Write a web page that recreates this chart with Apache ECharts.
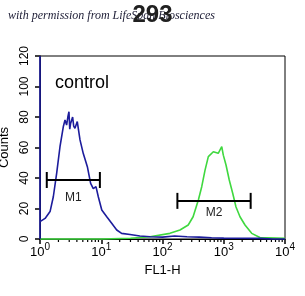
<!DOCTYPE html>
<html><head><meta charset="utf-8">
<script src="https://cdn.jsdelivr.net/npm/echarts@6/dist/echarts.min.js"></script>
<style>html,body{margin:0;padding:0;background:#fff}#c{width:305px;height:296px}</style>
</head><body><div id="c"></div>
<script>
// ---- data ----
const titleText = '293';
const watermark = 'with permission from LifeSpan Biosciences';
const sampleLabel = 'control';
const xName = 'FL1-H';
const yName = 'Counts';
const yTicks = [0, 20, 40, 60, 80, 100, 120];
const xDecades = [1, 10, 100, 1000, 10000];

// control (blue) histogram: FL1-H value, counts
const blueX = [1, 1, 1, 1.21, 1.46, 1.65, 1.87, 2.12, 2.40, 2.56, 2.72, 2.85, 2.97, 3.06, 3.16, 3.41, 3.55, 3.72, 4.06, 4.50, 5.09, 5.93, 6.71, 7.41, 8.20, 8.95, 10.2, 12.3, 14.8, 17.9, 21.5, 29.5, 42.7, 63, 100, 158, 251, 398, 631, 1000, 2000, 4000, 6300, 10000];
const blueY = [0, 120, 11.4, 13.5, 18, 27.7, 43, 60.5, 73.6, 78, 74.7, 80, 83.5, 72, 75.8, 80, 74, 72.6, 77, 65, 56, 47.4, 36.5, 33, 34.3, 27.7, 19, 14.6, 10.3, 5.9, 3.7, 3, 2, 1.5, 1.2, 2, 1.5, 1.2, 0.8, 0.6, 0.5, 0.4, 0, 0];
// 293 (green) histogram
const greenX = [1, 10, 30, 62.5, 132, 193, 263, 316, 385, 437, 494, 560, 676, 813, 927, 984, 1089, 1230, 1400, 1585, 1841, 2223, 2858, 3890, 10000];
const greenY = [0, 0, 0.5, 1.5, 3.7, 5.9, 9.2, 14.6, 25.6, 34.3, 45, 54, 57.2, 56.2, 60.5, 55, 48.5, 38.7, 30, 21, 14.6, 9.2, 3.7, 1, 0.5];

// gates
const gateNames = ['M1', 'M2'];
const gateStart = [1.29, 175];
const gateEnd = [9.5, 2750];
const gateLevel = [38.7, 25];

// ---- build ----
const zip = (xs, ys) => xs.map((x, i) => [x, ys[i]]);
const minorTicks = [];
for (let d = 0; d < xDecades.length - 1; d++) {
  for (let k = 2; k <= 9; k++) minorTicks.push([xDecades[d] * k, 0]);
}
const labelOffsets = [18, 12];
const font = 'Liberation Sans, Arial, sans-serif';

const chart = echarts.init(document.getElementById('c'), null, {renderer: 'canvas'});
chart.setOption({
  animation: false,
  backgroundColor: '#fff',
  title: {
    text: titleText, left: 'center', top: -2,
    textStyle: {fontSize: 24, fontWeight: 'bold', color: '#202020', fontFamily: font}
  },
  graphic: [
    {type: 'text', left: 8, top: 10, z: -1,
     style: {text: watermark, fill: '#22223a', font: 'italic 12px "Liberation Serif", serif'}},
    {type: 'text', left: 55, top: 74,
     style: {text: sampleLabel, fill: '#000', font: '18px ' + font}}
  ],
  grid: {left: 40, right: 20, top: 56, bottom: 57, outerBoundsMode: 'none', containLabel: false,
         show: true, borderColor: '#000', borderWidth: 1, backgroundColor: '#fff'},
  xAxis: {
    type: 'log', logBase: 10, min: 1, max: 10000,
    name: xName, nameLocation: 'middle', nameGap: 25,
    nameTextStyle: {fontSize: 13, color: '#000', fontFamily: font},
    axisLine: {lineStyle: {color: '#000', width: 1}},
    axisTick: {show: true, length: 5, lineStyle: {color: '#000', width: 1.5}},
    splitLine: {show: false},
    axisLabel: {
      margin: 3, color: '#000',
      formatter: v => '{b|10}{s|' + Math.round(Math.log10(v)) + '}',
      rich: {
        b: {fontSize: 13, fontFamily: font, color: '#000', lineHeight: 17, verticalAlign: 'bottom'},
        s: {fontSize: 10, fontFamily: font, color: '#000', lineHeight: 10, verticalAlign: 'top'}
      }
    }
  },
  yAxis: {
    type: 'value', min: yTicks[0], max: yTicks[yTicks.length - 1], interval: 20,
    name: yName, nameLocation: 'middle', nameGap: 26,
    nameTextStyle: {fontSize: 13, color: '#000', fontFamily: font},
    axisLine: {show: true, lineStyle: {color: '#000', width: 1}},
    axisTick: {show: true, length: 5, lineStyle: {color: '#000', width: 1.5}},
    splitLine: {show: false},
    axisLabel: {rotate: 90, margin: 9, fontSize: 12, color: '#000', fontFamily: font}
  },
  series: [
    {type: 'custom', clip: false, silent: true, z: 1,
     data: minorTicks,
     renderItem: (params, api) => {
       const p = api.coord([api.value(0), api.value(1)]);
       return {type: 'line', shape: {x1: p[0], y1: p[1], x2: p[0], y2: p[1] + 3},
               style: {stroke: '#000', lineWidth: 1.2}};
     }},
    {type: 'line', data: zip(greenX, greenY), showSymbol: false, clip: false, z: 3,
     lineStyle: {color: '#3fd83f', width: 1.6}},
    {type: 'line', data: zip(blueX, blueY), showSymbol: false, clip: false, z: 4,
     lineStyle: {color: '#1c1c9c', width: 1.6}},
    {type: 'custom', clip: false, silent: true, z: 5,
     data: gateNames.map((n, i) => [gateStart[i], gateEnd[i], gateLevel[i]]),
     renderItem: (params, api) => {
       const i = params.dataIndex;
       const a = api.coord([api.value(0), api.value(2)]);
       const b = api.coord([api.value(1), api.value(2)]);
       const h = 8;
       const st = {stroke: '#000', lineWidth: 2};
       return {type: 'group', children: [
         {type: 'line', shape: {x1: a[0], y1: a[1], x2: b[0], y2: b[1]}, style: st},
         {type: 'line', shape: {x1: a[0], y1: a[1] - h, x2: a[0], y2: a[1] + h}, style: st},
         {type: 'line', shape: {x1: b[0], y1: b[1] - h, x2: b[0], y2: b[1] + h}, style: st},
         {type: 'text', x: (a[0] + b[0]) / 2, y: a[1] + labelOffsets[i],
          style: {text: gateNames[i], fill: '#222', font: '12px ' + font, align: 'center', verticalAlign: 'middle'}}
       ]};
     }}
  ]
});
</script></body></html>
